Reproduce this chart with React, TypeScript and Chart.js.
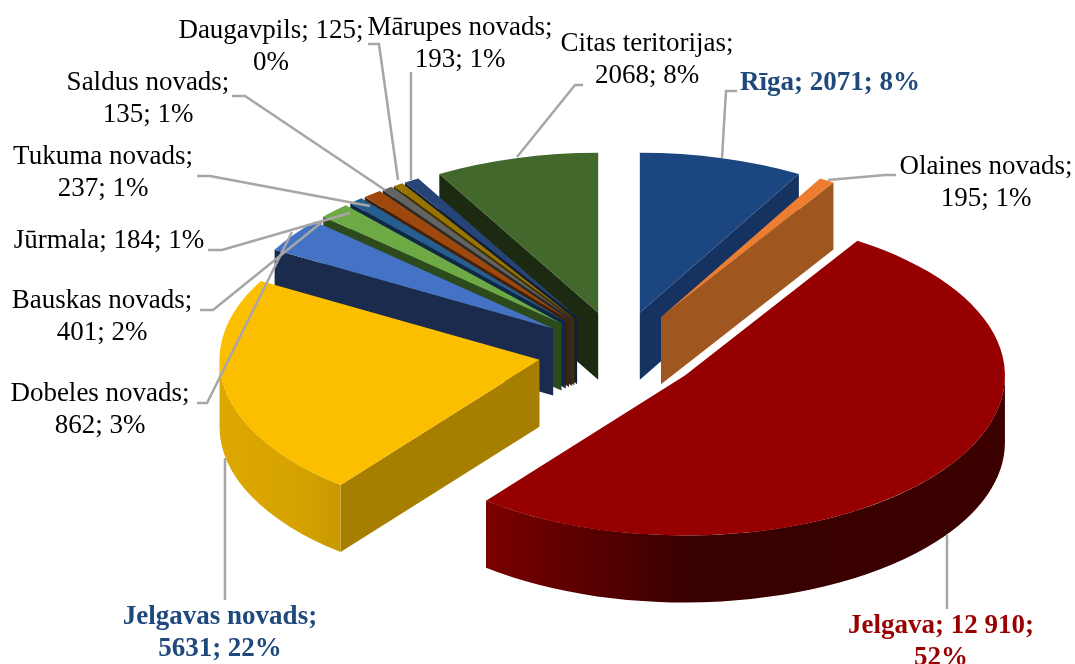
import React, { useEffect, useRef } from "react";
import { Chart, registerables } from "chart.js";

Chart.register(...registerables);

const categories = [
  "Rīga", "Olaines novads", "Jelgava", "Jelgavas novads", "Dobeles novads", "Bauskas novads",
  "Jūrmala", "Tukuma novads", "Saldus novads", "Daugavpils", "Mārupes novads", "Citas teritorijas",
];
const values = [2071, 195, 12910, 5631, 862, 401, 184, 237, 135, 125, 193, 2068];
const topColors = [
  "#1C4680", "#ED7D31", "#970000", "#FCBF00", "#4472C4", "#6DAA45",
  "#255E91", "#9E480E", "#636363", "#997300", "#264478", "#43682B",
];
const wallColors = [
  "#163261", "#A0561F", "#3C0000", "#A67F00", "#1A2B4E", "#2C4A1B",
  "#0F2845", "#43200A", "#2A2A2A", "#403000", "#101D33", "#1B2A10",
];
const paintOrder = [11, 10, 9, 8, 7, 6, 5, 4, 3, 0, 1, 2];

const labelLines = [
  ["Rīga; 2071; 8%"],
  ["Olaines novads;", "195; 1%"],
  ["Jelgava; 12 910;", "52%"],
  ["Jelgavas novads;", "5631; 22%"],
  ["Dobeles novads;", "862; 3%"],
  ["Bauskas novads;", "401; 2%"],
  ["Jūrmala; 184; 1%"],
  ["Tukuma novads;", "237; 1%"],
  ["Saldus novads;", "135; 1%"],
  ["Daugavpils; 125;", "0%"],
  ["Mārupes novads;", "193; 1%"],
  ["Citas teritorijas;", "2068; 8%"],
];
const labelAnchors = [
  [830, 83], [986, 167], [941, 626], [220, 617], [100, 394], [102, 301],
  [109, 241], [103, 157], [148, 83], [271, 31], [460, 28], [647, 44],
];
const labelColors = [
  "#1F497D", "#000000", "#990000", "#1F497D", "#000000", "#000000",
  "#000000", "#000000", "#000000", "#000000", "#000000", "#000000",
];
const labelBold = [true, false, true, true, false, false, false, false, false, false, false, false];
const leaders = [
  [[737, 91], [726, 91], [722, 158]],
  [[896, 175], [885, 175], [828, 180]],
  [[947, 609], [947, 535]],
  [[225, 600], [225, 458]],
  [[197, 403], [207, 403], [292, 232]],
  [[200, 310], [213, 310], [322, 222]],
  [[208, 250], [222, 250], [350, 213]],
  [[197, 176], [210, 176], [370, 206]],
  [[232, 96], [245, 96], [385, 190]],
  [[368, 44], [379, 44], [398, 180]],
  [[411, 72], [411, 180]],
  [[583, 85], [575, 85], [517, 157]],
];

const CENTER_X = 619;
const CENTER_Y = 352;
const TILT = 0.5;
const EXPLODE = 81;
const DEPTH = 67;
const RADIUS = 320;

const jelgavaGradient = [[485, "#7A0000"], [600, "#560000"], [690, "#380000"], [900, "#3A0000"], [1005, "#3C0000"]] as const;
const yellowGradient = [[218, "#DDA800"], [300, "#D6A200"], [340, "#C89800"]] as const;
const wallGradients: Record<number, readonly (readonly [number, string])[]> = { 2: jelgavaGradient, 3: yellowGradient };

const pie3d = {
  id: "pie3d",
  beforeDatasetsDraw(chart: any) {
    const ctx: CanvasRenderingContext2D = chart.ctx;
    const arcs = chart.getDatasetMeta(0).data;
    for (const i of paintOrder) {
      const arc = arcs[i];
      const a0 = arc.startAngle;
      const a1 = arc.endAngle;
      const mid = (a0 + a1) / 2;
      const ax = CENTER_X + EXPLODE * Math.cos(mid);
      const ay = CENTER_Y + EXPLODE * Math.sin(mid) * TILT;
      const R = arc.outerRadius;
      const rim = (t: number) => [ax + R * Math.cos(t), ay + R * TILT * Math.sin(t)];

      // Radial cut walls
      ctx.fillStyle = i === 2 ? "#5a0000" : wallColors[i];
      for (const [t, visible] of [[a0, Math.cos(a0) < 0], [a1, Math.cos(a1) > 0]] as [number, boolean][]) {
        if (!visible) continue;
        const [px, py] = rim(t);
        ctx.beginPath();
        ctx.moveTo(ax, ay);
        ctx.lineTo(px, py);
        ctx.lineTo(px, py + DEPTH);
        ctx.lineTo(ax, ay + DEPTH);
        ctx.closePath();
        ctx.fill();
      }

      // Outer curved wall (only the front half of the rim shows)
      const from = Math.max(a0, 0);
      const to = Math.min(a1, Math.PI);
      if (to > from) {
        const stops = wallGradients[i];
        if (stops) {
          const g = ctx.createLinearGradient(stops[0][0], 0, stops[stops.length - 1][0], 0);
          const span = stops[stops.length - 1][0] - stops[0][0];
          for (const [x, c] of stops) g.addColorStop((x - stops[0][0]) / span, c);
          ctx.fillStyle = g;
        } else {
          ctx.fillStyle = wallColors[i];
        }
        ctx.beginPath();
        ctx.ellipse(ax, ay, R, R * TILT, 0, from, to);
        ctx.ellipse(ax, ay + DEPTH, R, R * TILT, 0, to, from, true);
        ctx.closePath();
        ctx.fill();
      }

      // Top face: the library's own arc element, tilted
      ctx.save();
      ctx.translate(ax, ay);
      ctx.scale(1, TILT);
      ctx.translate(-arc.x, -arc.y);
      arc.draw(ctx);
      ctx.restore();
    }
    return false;
  },
  afterDraw(chart: any) {
    const ctx: CanvasRenderingContext2D = chart.ctx;
    ctx.save();
    ctx.strokeStyle = "#A6A6A6";
    ctx.lineWidth = 2.5;
    for (const pts of leaders) {
      ctx.beginPath();
      pts.forEach(([x, y], k) => (k ? ctx.lineTo(x, y) : ctx.moveTo(x, y)));
      ctx.stroke();
    }
    ctx.textAlign = "center";
    ctx.textBaseline = "middle";
    labelLines.forEach((lines, i) => {
      ctx.font = `${labelBold[i] ? "bold " : ""}27px "Liberation Serif"`;
      ctx.fillStyle = labelColors[i];
      lines.forEach((t, k) => ctx.fillText(t, labelAnchors[i][0], labelAnchors[i][1] + k * 32));
    });
    ctx.restore();
  },
};

export default function App() {
  const ref = useRef<HTMLCanvasElement>(null);
  useEffect(() => {
    const chart = new Chart(ref.current!, {
      type: "pie",
      data: {
        labels: categories,
        datasets: [{ data: values, backgroundColor: topColors, borderWidth: 0, offset: 0 }],
      },
      options: {
        animation: false,
        responsive: false,
        radius: RADIUS,
        plugins: { legend: { display: false }, tooltip: { enabled: false } },
      } as any,
      plugins: [pie3d as any],
    });
    return () => chart.destroy();
  }, []);
  return (
    <div style={{ position: "absolute", left: 0, top: 0, width: 1075, height: 664, background: "#fff" }}>
      <canvas ref={ref} width={1075} height={664} style={{ display: "block" }} />
    </div>
  );
}
